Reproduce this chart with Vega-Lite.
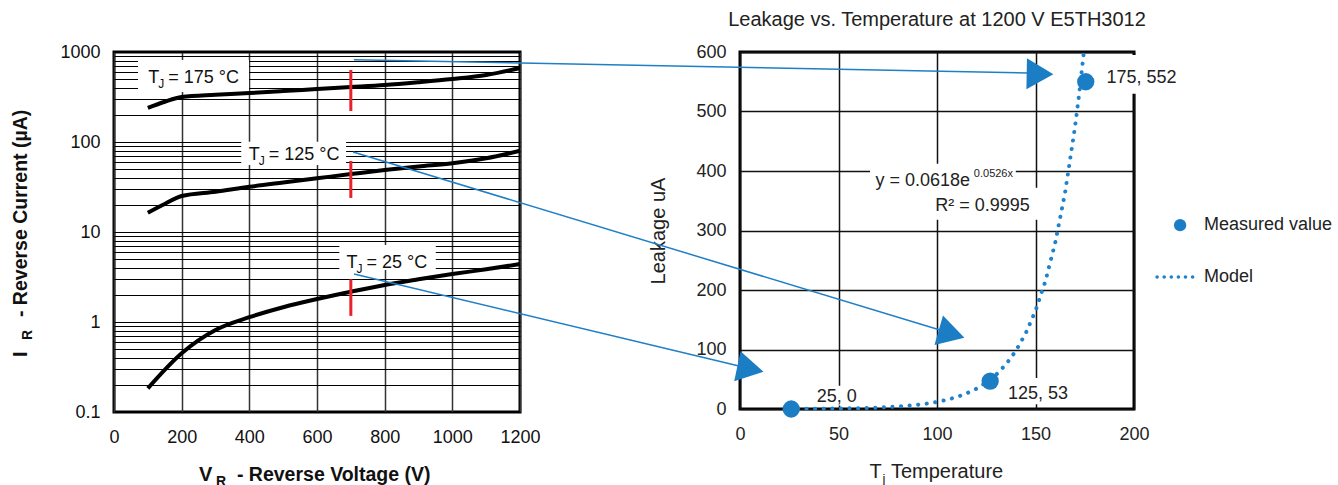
{
  "$schema": "https://vega.github.io/schema/vega-lite/v6.json",
  "background": "white",
  "padding": {"left": 9, "top": 8, "right": 0, "bottom": 0},
  "bounds": "flush",
  "spacing": 220,
  "config": {
    "view": {"stroke": "#000", "strokeWidth": 3},
    "font": "Liberation Sans",
    "axis": {"domain": false, "ticks": false, "labelFont": "Liberation Sans", "labelFontSize": 18, "labelOverlap": false, "labelFlush": false, "gridOpacity": 1}
  },
  "datasets": {
    "curves": [
      {"T": "175", "V": 100, "I": 239}, {"T": "175", "V": 150, "I": 280}, {"T": "175", "V": 200, "I": 316}, {"T": "175", "V": 300, "I": 335}, {"T": "175", "V": 400, "I": 350}, {"T": "175", "V": 500, "I": 368}, {"T": "175", "V": 600, "I": 388}, {"T": "175", "V": 700, "I": 408}, {"T": "175", "V": 800, "I": 430}, {"T": "175", "V": 900, "I": 462}, {"T": "175", "V": 1000, "I": 501}, {"T": "175", "V": 1100, "I": 555}, {"T": "175", "V": 1200, "I": 664},
      {"T": "125", "V": 100, "I": 16.4}, {"T": "125", "V": 150, "I": 20.5}, {"T": "125", "V": 200, "I": 25.1}, {"T": "125", "V": 300, "I": 28}, {"T": "125", "V": 400, "I": 31.8}, {"T": "125", "V": 500, "I": 35.5}, {"T": "125", "V": 600, "I": 39.5}, {"T": "125", "V": 700, "I": 44}, {"T": "125", "V": 800, "I": 48.9}, {"T": "125", "V": 900, "I": 53.5}, {"T": "125", "V": 1000, "I": 58}, {"T": "125", "V": 1100, "I": 65.9}, {"T": "125", "V": 1200, "I": 80},
      {"T": "25", "V": 100, "I": 0.183}, {"T": "25", "V": 200, "I": 0.449}, {"T": "25", "V": 300, "I": 0.815}, {"T": "25", "V": 400, "I": 1.13}, {"T": "25", "V": 500, "I": 1.46}, {"T": "25", "V": 600, "I": 1.8}, {"T": "25", "V": 700, "I": 2.17}, {"T": "25", "V": 800, "I": 2.58}, {"T": "25", "V": 900, "I": 2.98}, {"T": "25", "V": 1000, "I": 3.41}, {"T": "25", "V": 1100, "I": 3.85}, {"T": "25", "V": 1200, "I": 4.4}
    ],
    "redmarks": [
      {"V": 700, "I": 631, "I2": 221}, {"V": 700, "I": 61.5, "I2": 23.9}, {"V": 700, "I": 2.98, "I2": 1.17}
    ],
    "lboxes": [
      {"V": 71, "V2": 399, "I": 359, "I2": 815},
      {"V": 376, "V2": 686, "I": 55.5, "I2": 100.7},
      {"V": 666, "V2": 951, "I": 3.78, "I2": 7.17}
    ],
    "llabels": [
      {"V": 101, "I": 456, "rest": "= 175 °C"},
      {"V": 398, "I": 63.1, "rest": "= 125 °C"},
      {"V": 687, "I": 3.95, "rest": "= 25 °C"}
    ],
    "lxtitle": [{"V": 251, "I": 0.0169, "rest": "- Reverse Voltage (V)"}],
    "lytitle": [{"V": -257, "I": 0.408, "rest": "- Reverse Current (µA)"}],
    "rboxes": [
      {"t": 37, "t2": 62, "v": 6, "v2": 39},
      {"t": 134, "t2": 168, "v": 8, "v2": 52},
      {"t": 183, "t2": 224, "v": 530, "v2": 595},
      {"t": 66, "t2": 140, "v": 372, "v2": 412},
      {"t": 96, "t2": 152, "v": 318, "v2": 372}
    ],
    "model": [
      {"t": 25, "v": 0.23}, {"t": 30, "v": 0.3}, {"t": 35, "v": 0.39}, {"t": 40, "v": 0.51}, {"t": 45, "v": 0.66}, {"t": 50, "v": 0.86}, {"t": 55, "v": 1.12}, {"t": 60, "v": 1.45}, {"t": 65, "v": 1.89}, {"t": 70, "v": 2.45}, {"t": 75, "v": 3.19}, {"t": 80, "v": 4.15}, {"t": 85, "v": 5.4}, {"t": 90, "v": 7.03}, {"t": 95, "v": 9.14}, {"t": 100, "v": 11.9}, {"t": 105, "v": 15.5}, {"t": 110, "v": 20.1}, {"t": 115, "v": 26.2}, {"t": 120, "v": 34.1}, {"t": 125, "v": 44.3}, {"t": 130, "v": 57.6}, {"t": 135, "v": 75}, {"t": 140, "v": 97.5}, {"t": 145, "v": 126.9}, {"t": 150, "v": 165}, {"t": 155, "v": 214.7}, {"t": 160, "v": 279.3}, {"t": 165, "v": 363.4}, {"t": 170, "v": 472.7}, {"t": 172, "v": 524.9}, {"t": 174.5, "v": 598.8}
    ],
    "measured": [
      {"t": 26, "v": 0}, {"t": 127, "v": 47}, {"t": 175.5, "v": 550}
    ],
    "plabels": [
      {"t": 39, "v": 20, "text": "25, 0"}, {"t": 136, "v": 26, "text": "125, 53"}, {"t": 186, "v": 556, "text": "175, 552"}
    ],
    "equation": [
      {"t": 68.8, "v": 384, "text": "y = 0.0618e"}, {"t": 99.1, "v": 342, "text": "R² = 0.9995"}
    ],
    "eqsup": [{"t": 118.7, "v": 395, "text": "0.0526x"}],
    "legendpt": [{"t": 223.4, "v": 309}],
    "legendline": [{"t": 211.7, "t2": 229.9, "v": 221.8}],
    "legendtext": [{"t": 235.5, "v": 309, "text": "Measured value"}, {"t": 235.5, "v": 221.8, "text": "Model"}],
    "arrows": [
      {"id": 1, "t": -196, "v": 587, "t2": 146.2, "v2": 564.7},
      {"id": 2, "t": -196.4, "v": 431.9, "t2": 101.5, "v2": 132.8},
      {"id": 3, "t": -195.9, "v": 226.9, "t2": -0.5, "v2": 72.3}
    ],
    "heads": [
      {"id": 1, "t": 152.3, "v": 563}, {"id": 2, "t": 107.4, "v": 126.1}, {"id": 3, "t": 5.3, "v": 67.2}
    ],
    "rxtitle": [{"t": 65.7, "v": -116, "rest": "Temperature"}]
  },
  "hconcat": [
    {
      "width": 406,
      "height": 360,
      "encoding": {
        "x": {"field": "V", "type": "quantitative", "scale": {"domain": [0, 1200], "nice": false, "zero": false},
          "axis": {"values": [0, 200, 400, 600, 800, 1000, 1200], "format": "d", "grid": true, "gridColor": "#333", "gridWidth": 1.5, "labelPadding": 16, "labelColor": "#111", "title": null}},
        "y": {"field": "I", "type": "quantitative", "scale": {"type": "log", "domain": [0.1, 1000], "nice": false},
          "axis": {"values": [0.1, 0.2, 0.3, 0.4, 0.5, 0.6, 0.7, 0.8, 0.9, 1, 2, 3, 4, 5, 6, 7, 8, 9, 10, 20, 30, 40, 50, 60, 70, 80, 90, 100, 200, 300, 400, 500, 600, 700, 800, 900, 1000],
            "labelExpr": "datum.value == 1000 ? '1000' : datum.value == 100 ? '100' : datum.value == 10 ? '10' : datum.value == 1 ? '1' : datum.value == 0.1 ? '0.1' : ''",
            "grid": true, "gridColor": "#000", "gridWidth": 1.2, "labelPadding": 14, "labelColor": "#111", "title": null}}
      },
      "layer": [
        {"data": {"name": "lboxes"}, "mark": {"type": "rect", "color": "white"}, "encoding": {"x2": {"field": "V2"}, "y2": {"field": "I2"}}},
        {"data": {"name": "curves"}, "mark": {"type": "line", "color": "#000", "strokeWidth": 4, "interpolate": "monotone"}, "encoding": {"detail": {"field": "T"}}},
        {"data": {"name": "redmarks"}, "mark": {"type": "rule", "color": "#e8212b", "strokeWidth": 3}, "encoding": {"y2": {"field": "I2"}}},
        {"data": {"name": "llabels"}, "mark": {"type": "text", "text": "T", "align": "left", "baseline": "alphabetic", "fontSize": 18, "color": "#111"}},
        {"data": {"name": "llabels"}, "mark": {"type": "text", "text": "J", "align": "left", "baseline": "alphabetic", "fontSize": 12, "dx": 10, "dy": 5, "color": "#111"}},
        {"data": {"name": "llabels"}, "mark": {"type": "text", "align": "left", "baseline": "alphabetic", "fontSize": 18, "dx": 20, "color": "#111"}, "encoding": {"text": {"field": "rest"}}},
        {"data": {"name": "lxtitle"}, "mark": {"type": "text", "text": "V", "align": "left", "baseline": "alphabetic", "fontSize": 20, "fontWeight": "bold", "color": "#111"}},
        {"data": {"name": "lxtitle"}, "mark": {"type": "text", "text": "R", "align": "left", "baseline": "alphabetic", "fontSize": 14, "fontWeight": "bold", "dx": 17, "dy": 5, "color": "#111"}},
        {"data": {"name": "lxtitle"}, "mark": {"type": "text", "align": "left", "baseline": "alphabetic", "fontSize": 19.5, "fontWeight": "bold", "dx": 38, "color": "#111"}, "encoding": {"text": {"field": "rest"}}},
        {"data": {"name": "lytitle"}, "mark": {"type": "text", "text": "I", "angle": -90, "align": "left", "baseline": "alphabetic", "fontSize": 20, "fontWeight": "bold", "color": "#111"}},
        {"data": {"name": "lytitle"}, "mark": {"type": "text", "text": "R", "angle": -90, "align": "left", "baseline": "alphabetic", "fontSize": 14, "fontWeight": "bold", "dx": 17, "dy": 5, "color": "#111"}},
        {"data": {"name": "lytitle"}, "mark": {"type": "text", "angle": -90, "align": "left", "baseline": "alphabetic", "fontSize": 19.5, "fontWeight": "bold", "dx": 40, "color": "#111"}, "encoding": {"text": {"field": "rest"}}}
      ]
    },
    {
      "width": 394,
      "height": 357,
      "title": {"text": "Leakage vs. Temperature at 1200 V E5TH3012", "fontSize": 20, "fontWeight": "normal", "font": "Liberation Sans", "color": "#222", "anchor": "middle", "frame": "group", "offset": 13},
      "encoding": {
        "x": {"field": "t", "type": "quantitative", "scale": {"domain": [0, 200], "nice": false, "zero": false},
          "axis": {"values": [0, 50, 100, 150, 200], "grid": true, "gridColor": "#111", "gridWidth": 1.5, "labelPadding": 16, "labelColor": "#222", "title": null}},
        "y": {"field": "v", "type": "quantitative", "scale": {"domain": [0, 600], "nice": false},
          "axis": {"values": [0, 100, 200, 300, 400, 500, 600], "grid": true, "gridColor": "#111", "gridWidth": 1.5, "labelPadding": 14, "labelColor": "#222",
            "title": "Leakage uA", "titleFont": "Liberation Sans", "titleFontSize": 20, "titleFontWeight": "normal", "titleColor": "#222", "titlePadding": 27}}
      },
      "layer": [
        {"data": {"name": "rboxes"}, "mark": {"type": "rect", "color": "white"}, "encoding": {"x2": {"field": "t2"}, "y2": {"field": "v2"}}},
        {"data": {"name": "model"}, "mark": {"type": "line", "color": "#1f82cc", "strokeWidth": 4, "strokeCap": "round", "strokeDash": [0.1, 8.5]}},
        {"data": {"name": "measured"}, "mark": {"type": "point", "shape": "circle", "filled": true, "opacity": 1, "size": 300, "color": "#1b7dc4"}},
        {"data": {"name": "plabels"}, "mark": {"type": "text", "align": "left", "baseline": "middle", "fontSize": 18, "color": "#222"}, "encoding": {"text": {"field": "text"}}},
        {"data": {"name": "equation"}, "mark": {"type": "text", "align": "left", "baseline": "middle", "fontSize": 18, "color": "#222"}, "encoding": {"text": {"field": "text"}}},
        {"data": {"name": "eqsup"}, "mark": {"type": "text", "align": "left", "baseline": "middle", "fontSize": 11, "color": "#222"}, "encoding": {"text": {"field": "text"}}},
        {"data": {"name": "legendpt"}, "mark": {"type": "point", "shape": "circle", "filled": true, "opacity": 1, "size": 150, "color": "#1b7dc4"}},
        {"data": {"name": "legendline"}, "mark": {"type": "rule", "color": "#1f82cc", "strokeWidth": 3.5, "strokeCap": "round", "strokeDash": [0.1, 7]}, "encoding": {"x2": {"field": "t2"}}},
        {"data": {"name": "legendtext"}, "mark": {"type": "text", "align": "left", "baseline": "middle", "fontSize": 18, "color": "#222"}, "encoding": {"text": {"field": "text"}}},
        {"data": {"name": "arrows"}, "mark": {"type": "rule", "color": "#1f7fc6", "strokeWidth": 1.5}, "encoding": {"x2": {"field": "t2"}, "y2": {"field": "v2"}}},
        {"data": {"name": "heads"}, "transform": [{"filter": "datum.id == 1"}], "mark": {"type": "point", "shape": "triangle-right", "filled": true, "opacity": 1, "size": 950, "angle": 1, "color": "#1b7dc4"}},
        {"data": {"name": "heads"}, "transform": [{"filter": "datum.id == 2"}], "mark": {"type": "point", "shape": "triangle-right", "filled": true, "opacity": 1, "size": 950, "angle": 16, "color": "#1b7dc4"}},
        {"data": {"name": "heads"}, "transform": [{"filter": "datum.id == 3"}], "mark": {"type": "point", "shape": "triangle-right", "filled": true, "opacity": 1, "size": 950, "angle": 12, "color": "#1b7dc4"}},
        {"data": {"name": "rxtitle"}, "mark": {"type": "text", "text": "T", "align": "left", "baseline": "alphabetic", "fontSize": 20, "color": "#222"}},
        {"data": {"name": "rxtitle"}, "mark": {"type": "text", "text": "j", "align": "left", "baseline": "alphabetic", "fontSize": 13, "dx": 13, "dy": 5, "color": "#222"}},
        {"data": {"name": "rxtitle"}, "mark": {"type": "text", "align": "left", "baseline": "alphabetic", "fontSize": 20, "dx": 21.5, "color": "#222"}, "encoding": {"text": {"field": "rest"}}}
      ]
    }
  ]
}
